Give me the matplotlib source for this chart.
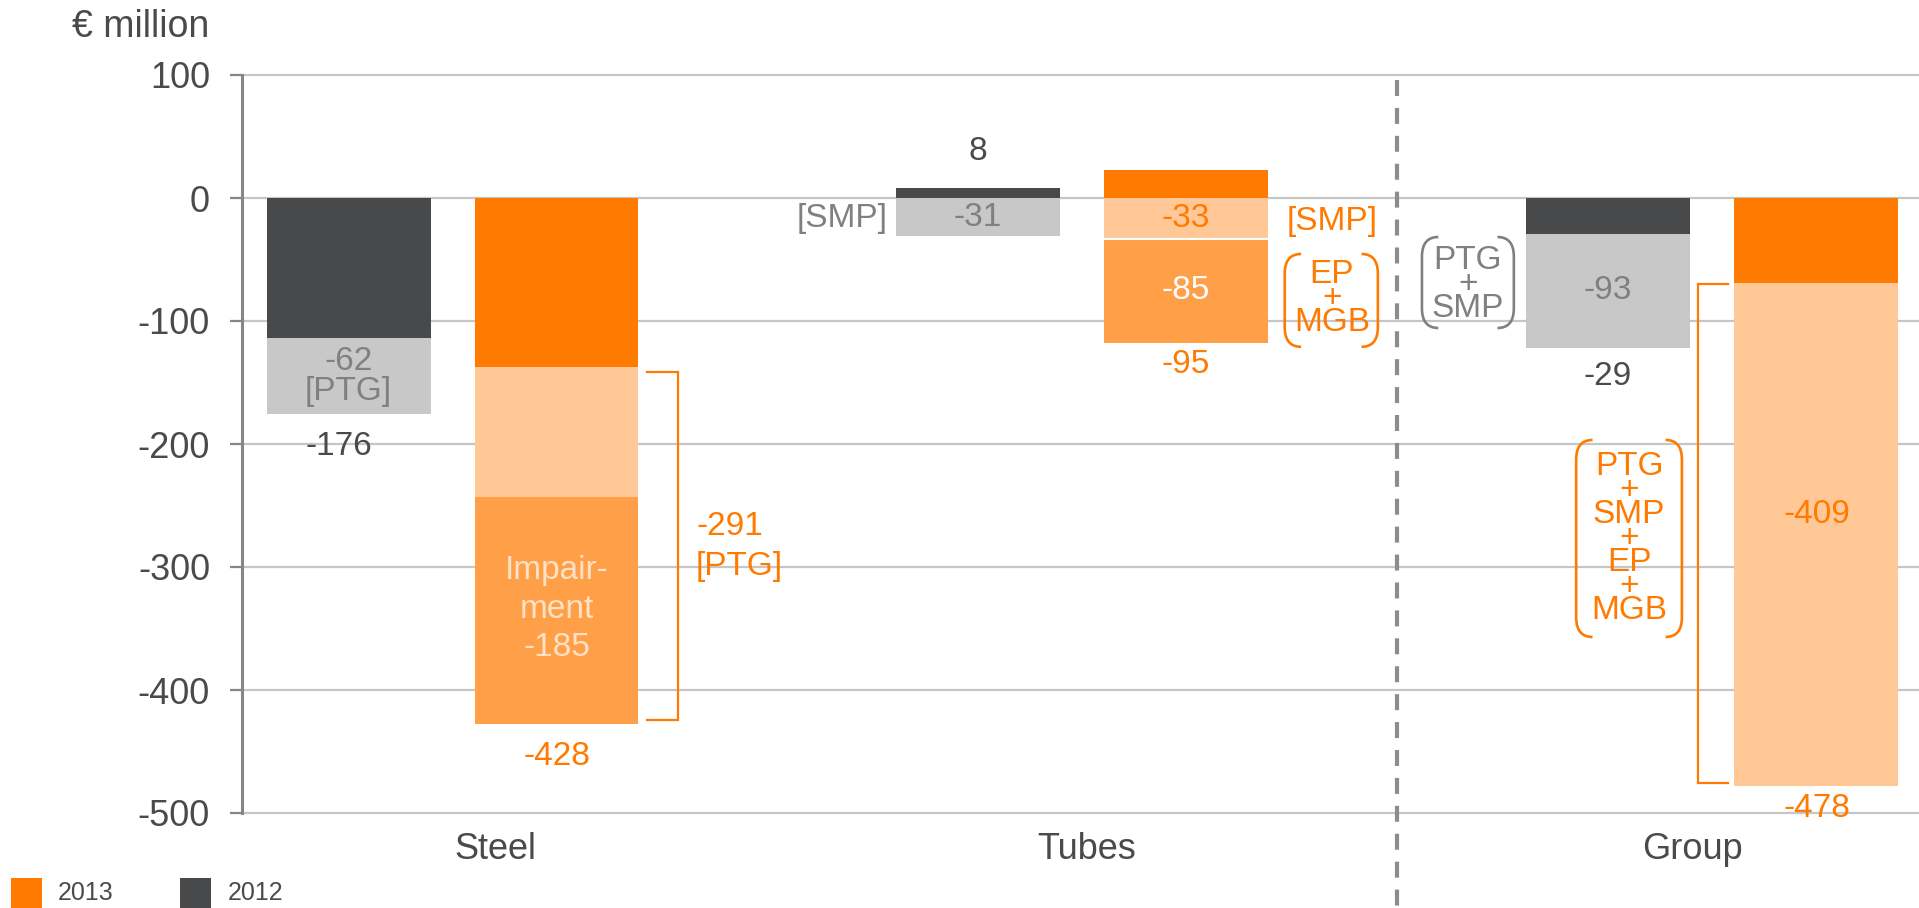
import matplotlib
matplotlib.use("Agg")
import matplotlib.pyplot as plt
from matplotlib.path import Path
from matplotlib.patches import PathPatch, Rectangle

plt.rcParams["font.family"] = ["Liberation Sans", "DejaVu Sans"]
plt.rcParams["axes.unicode_minus"] = False
plt.rcParams["lines.scale_dashes"] = False

# ---- data (€ million) ----
categories = ["Steel", "Tubes", "Group"]
years = ["2013", "2012"]

# 2012: underlying result and one-off effects
base_2012 = [-114, 8, -29]
oneoff_2012 = [-62, -31, -93]
label_2012 = [-176, 8, -29]

# 2013: underlying result, one-off effects and further special items
base_2013 = [-137, 23, -69]
oneoff_2013 = [-106, -33, -409]
extra_2013 = [-185, -85, 0]
label_2013 = [-428, -95, -478]
steel_ptg_2013 = -291

yticks = [100, 0, -100, -200, -300, -400, -500]

# ---- colours ----
C_OR = "#FF7A00"
C_PEACH = "#FFC896"
C_MID = "#FF9F47"
C_DGR = "#48494B"
C_LGR = "#C8C8C8"
C_TGR = "#808080"
C_TXT = "#4A4A4C"
C_AX = "#868686"

W, H = 1919, 908
fig = plt.figure(figsize=(W / 100, H / 100), dpi=100)
ax = fig.add_axes([242 / W, 1 - 813 / H, (W - 242) / W, (813 - 75) / H])
ax.set_ylim(-500, 100)
ax.set_xlim(-0.3344, 2.3296)
PX = (813 - 75) / 600.0  # pixels per € million

bw = 0.2605
off = 0.1652
x12 = [i - off for i in range(3)]
x13 = [i + off for i in range(3)]

# ---- bars ----
for i in range(3):
    ax.bar(x12[i], base_2012[i], width=bw, color=C_DGR, zorder=2)
    b = min(base_2012[i], 0)
    ax.bar(x12[i], oneoff_2012[i], bottom=b, width=bw, color=C_LGR, zorder=2)

    ax.bar(x13[i], base_2013[i], width=bw, color=C_OR, zorder=2)
    b = min(base_2013[i], 0)
    ax.bar(x13[i], oneoff_2013[i], bottom=b, width=bw, color=C_PEACH, zorder=2)
    if extra_2013[i]:
        ax.bar(x13[i], extra_2013[i], bottom=b + oneoff_2013[i], width=bw,
               color=C_MID, zorder=2)

# thin white divider between the Tubes 2013 segments
t_div = min(base_2013[1], 0) + oneoff_2013[1]
ax.plot([x13[1] - bw / 2, x13[1] + bw / 2], [t_div, t_div], color="white",
        lw=1.5, zorder=3, solid_capstyle="butt")


def stack(x, yc, lines, gap_px, **kw):
    n = len(lines)
    for k, s in enumerate(lines):
        y = yc + ((n - 1) / 2 - k) * gap_px / PX
        ax.text(x, y, s, ha="center", va="center", zorder=5, **kw)


def paren_box(x0, x1, y0, y1, color, rx=0.026, ry=16):
    # left "(" and right ")" drawn as rounded brackets
    left = Path([(x0 + rx, y1), (x0, y1), (x0, y1 - ry), (x0, y0 + ry),
                 (x0, y0), (x0 + rx, y0)],
                [Path.MOVETO, Path.CURVE3, Path.CURVE3, Path.LINETO,
                 Path.CURVE3, Path.CURVE3])
    right = Path([(x1 - rx, y1), (x1, y1), (x1, y1 - ry), (x1, y0 + ry),
                  (x1, y0), (x1 - rx, y0)],
                 [Path.MOVETO, Path.CURVE3, Path.CURVE3, Path.LINETO,
                  Path.CURVE3, Path.CURVE3])
    for p in (left, right):
        ax.add_patch(PathPatch(p, fill=False, edgecolor=color, lw=1.9,
                               zorder=5, clip_on=False))


def bracket(xa, xb, y0, y1, color):
    ax.plot([xa, xb, xb, xa], [y1, y1, y0, y0], color=color, lw=1.6,
            zorder=4, solid_joinstyle="miter")


FS = 24

# ---- Steel ----
ax.text(x12[0] - 0.016, label_2012[0] - 26, f"{label_2012[0]}", ha="center",
        va="center", fontsize=FS, color=C_TXT)
stack(x12[0], base_2012[0] + oneoff_2012[0] / 2 - 0.5,
      [f"{oneoff_2012[0]}", "[PTG]"], 30, fontsize=FS, color=C_TGR)
stack(x13[0], base_2013[0] + oneoff_2013[0] + extra_2013[0] / 2 + 1,
      ["Impair-", "ment", f"{extra_2013[0]}"], 38.5, fontsize=FS,
      color="#FFE2C6")
ax.text(x13[0], label_2013[0] - 26, f"{label_2013[0]}", ha="center",
        va="center", fontsize=FS, color=C_OR)
bracket(x13[0] + bw / 2 + 0.014, x13[0] + bw / 2 + 0.062,
        label_2013[0] + 4, base_2013[0] - 4.5, C_OR)
ax.text(0.387, -267, f"{steel_ptg_2013}", ha="left", va="center",
        fontsize=FS, color=C_OR)
ax.text(0.387, -300, "[PTG]", ha="left", va="center", fontsize=FS,
        color=C_OR)

# ---- Tubes ----
ax.text(x12[1], base_2012[1] + 29.4, f"{label_2012[1]}", ha="center",
        va="center", fontsize=FS, color=C_TXT)
ax.text(0.619, -16.3, "[SMP]", ha="center", va="center", fontsize=FS,
        color=C_TGR)
ax.text(x12[1], oneoff_2012[1] / 2, f"{oneoff_2012[1]}", ha="center",
        va="center", fontsize=FS, color=C_TGR)
ax.text(x13[1], oneoff_2013[1] / 2, f"{oneoff_2013[1]}", ha="center",
        va="center", fontsize=FS, color=C_OR)
ax.text(1.397, -19.5, "[SMP]", ha="center", va="center", fontsize=FS,
        color=C_OR)
ax.text(x13[1], oneoff_2013[1] + extra_2013[1] / 2 + 0.5,
        f"{extra_2013[1]}", ha="center", va="center", fontsize=FS,
        color="white")
stack(1.397, -82, ["EP", "+", "MGB"], 24, fontsize=FS, color=C_OR)
paren_box(1.322, 1.470, -121, -45.5, C_OR)
ax.text(x13[1], label_2013[1] - 40, f"{label_2013[1]}", ha="center",
        va="center", fontsize=FS, color=C_OR)

# ---- Group ----
stack(1.613, -70, ["PTG", "+", "SMP"], 24, fontsize=FS, color=C_TGR)
paren_box(1.540, 1.686, -105.7, -31.7, C_TGR)
ax.text(x12[2], base_2012[2] + oneoff_2012[2] / 2, f"{oneoff_2012[2]}",
        ha="center", va="center", fontsize=FS, color=C_TGR)
ax.text(x12[2], base_2012[2] + oneoff_2012[2] - 23.5, f"{label_2012[2]}",
        ha="center", va="center", fontsize=FS, color=C_TXT)
stack(1.869, -276.5, ["PTG", "+", "SMP", "+", "EP", "+", "MGB"], 24,
      fontsize=FS, color=C_OR)
paren_box(1.785, 1.953, -356.9, -196.7, C_OR)
ax.text(x13[2] + 0.003, -257, f"{oneoff_2013[2]}", ha="center",
        va="center", fontsize=FS, color=C_OR)
bracket(x13[2] - bw / 2 - 0.008, x13[2] - bw / 2 - 0.057,
        label_2013[2] + 2.5, base_2013[2] - 1, C_OR)
ax.text(x13[2] + 0.002, label_2013[2] - 18, f"{label_2013[2]}",
        ha="center", va="center", fontsize=FS, color=C_OR, zorder=5)

# ---- separator between segments and group ----
ax.plot([1.5, 1.5], [96, -577], color="#8C8C8C", lw=3,
        dashes=(11.5, 8.6), clip_on=False, zorder=1)

# ---- category labels ----
for xpos, name in zip([0.0675, 1.008, 1.969], categories):
    ax.text(xpos, -530, name, ha="center", va="center", fontsize=26,
            color=C_TXT, clip_on=False)

# ---- axes styling ----
ax.set_yticks(yticks)
ax.set_yticklabels([str(v) for v in yticks])
ax.set_xticks([])
ax.tick_params(axis="y", length=8.6, width=1.6, color=C_AX, pad=14.4,
               labelsize=26, labelcolor=C_TXT)
for s in ("top", "right", "bottom"):
    ax.spines[s].set_visible(False)
ax.spines["left"].set_color(C_AX)
ax.spines["left"].set_linewidth(2.2)
ax.yaxis.grid(True, color="#C6C6C6", lw=1.6)
for gl in ax.yaxis.get_gridlines():
    gl.set_clip_on(False)
ax.set_axisbelow(True)

# ---- unit and legend ----
fig.text(72 / W, 1 - 27 / H, "€ million", ha="left", va="center",
         fontsize=27, color=C_TXT)
for (x0, tx), col, yr in zip([(11, 58), (180, 228)], [C_OR, C_DGR], years):
    fig.add_artist(Rectangle((x0 / W, 0), 31 / W, 30 / H,
                             transform=fig.transFigure, color=col, lw=0))
    fig.text(tx / W, 1 - 893 / H, yr, ha="left", va="center", fontsize=18,
             color=C_TXT)

fig.savefig("out.png", dpi=100)
